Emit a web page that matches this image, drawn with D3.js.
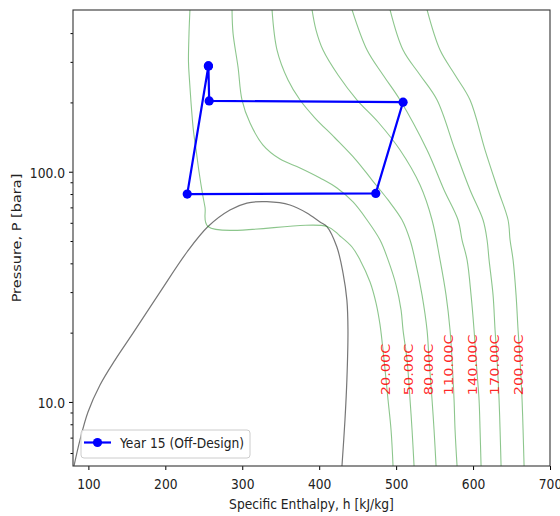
<!DOCTYPE html>
<html>
<head>
<meta charset="utf-8">
<script src="https://cdn.jsdelivr.net/npm/d3@7"></script>
<style>
body { margin: 0; background: #fff; }
text { font-family: "DejaVu Sans", sans-serif; }
</style>
</head>
<body>
<svg id="chart"></svg>
<script>
'use strict';

let WIDTH = 560;
let HEIGHT = 516;
let PLOT = {left: 73, right: 550, top: 10, bottom: 466};
let STRETCH = 1.18; // the picture is a bit taller than it was drawn
let FONT = 12.3;

// axes
let H_DOMAIN = [80, 700];
let P_DOMAIN = [5.27, 504];
let H_TICKS = [100, 200, 300, 400, 500, 600, 700];
let P_TICKS = [10, 100];
let P_MINOR = [6, 7, 8, 9, 20, 30, 40, 50, 60, 70, 80, 90, 200, 300, 400];

// saturation dome
let DOME_H = [81.3, 89.1, 99.5, 115.1, 134.6, 158, 193.1, 228.2, 255.5, 284, 306, 332, 362, 384, 401, 410, 423, 431, 436, 437.4, 436, 433.5, 429.6];
let DOME_P = [5.27, 6.84, 9.05, 11.85, 15.2, 19.9, 30, 44.8, 57.8, 68.2, 73.1, 74.1, 71.7, 66.2, 60.5, 57.8, 47.1, 36.3, 27.7, 20.5, 12.5, 8.35, 5.27];

// cycle
let CYCLE_NAME = 'Year 15 (Off-Design)';
let CYCLE_H = [256, 257, 509, 473.5, 228.5, 256];
let CYCLE_P = [288, 203, 200.5, 80.5, 80, 288];

// isotherms
let ISO_T = [20, 50, 80, 110, 140, 170, 200];
let ISO_H = [
    [232, 230.8, 230.1, 231.4, 233.4, 236.6, 239.9, 243.8, 248.4, 251.6, 255.5, 410.2, 427, 442.7, 453.1, 466.1, 473.9, 479.1, 484.3, 489.5, 493.4, 496],
    [286.7, 288, 294.5, 299.7, 310.1, 327, 349.1, 375.1, 401.1, 423.2, 444, 462.2, 479.1, 489.5, 499.9, 506.4, 509, 514.2, 518.1, 520.7, 523.3],
    [338.7, 345.2, 359.5, 375.1, 394.6, 420.6, 447.9, 468.7, 489.5, 507.7, 518.1, 524.6, 533.7, 540.2, 542.8, 546.7, 549.3, 551.9],
    [390.7, 395.9, 405, 424.5, 449.2, 476.5, 505.1, 531.1, 546.7, 557.1, 564.9, 570.1, 572.7, 575.3, 576.6, 579.2],
    [442.7, 462.2, 483, 505.1, 540.2, 562.3, 580.5, 585.7, 592.2, 597.4, 601.3, 603.9, 607.8, 609.1, 610.4],
    [492.1, 509, 531.1, 553.2, 576.6, 596.1, 613, 618.2, 620.8, 626, 628.6, 631.2, 633.8, 635.1, 636.4],
    [540.2, 557.1, 576.6, 596.1, 615.6, 632.5, 645.5, 648.1, 652, 655.9, 658.5, 661.1, 663.7, 665, 666.3]
];
let ISO_P = [
    [505, 400, 300, 250, 200, 150, 125, 100, 80, 70, 57.8, 57.8, 52.6, 47.1, 41.4, 33.2, 26.9, 21.6, 15.2, 10.2, 7.56, 5.27],
    [505, 400, 284.9, 204.8, 162.7, 130.6, 113.5, 103.8, 93.9, 85, 73.9, 61.7, 50.5, 41.4, 32.2, 25.1, 20.5, 15.2, 10.2, 7.56, 5.27],
    [505, 337.6, 250.2, 204.8, 171.1, 140.1, 112.4, 92, 75.4, 61.7, 50.5, 41.4, 29.1, 20.5, 15.2, 10.2, 7.56, 5.27],
    [505, 412.4, 337.6, 263, 204.8, 164.4, 124.2, 87.5, 61.7, 41.4, 29.1, 20.5, 15.2, 10.2, 7.56, 5.27],
    [505, 337.6, 263, 204.8, 124.2, 83.3, 61.7, 50.5, 41.4, 29.1, 20.5, 15.2, 10.2, 7.56, 5.27],
    [505, 337.6, 263, 204.8, 124.2, 83.3, 61.7, 50.5, 41.4, 29.1, 20.5, 15.2, 10.2, 7.56, 5.27],
    [505, 337.6, 263, 204.8, 124.2, 83.3, 61.7, 50.5, 41.4, 29.1, 20.5, 15.2, 10.2, 7.56, 5.27]
];
let ISO_LABEL_H = [485.6, 515.5, 541.5, 567.5, 598.7, 627.3, 658.5];
let ISO_LABEL_P = 10.7;

let svg = d3.select('#chart').attr('width', WIDTH).attr('height', HEIGHT);

let x = d3.scaleLinear().domain(H_DOMAIN).range([PLOT.left, PLOT.right]);
let y = d3.scaleLog().domain(P_DOMAIN).range([PLOT.bottom, PLOT.top]);

svg.append('clipPath').attr('id', 'clip')
    .append('rect')
    .attr('x', PLOT.left).attr('y', PLOT.top)
    .attr('width', PLOT.right - PLOT.left).attr('height', PLOT.bottom - PLOT.top);

let plot = svg.append('g').attr('clip-path', 'url(#clip)');

let line = d3.line()
    .x(function(d) { return x(d[0]); })
    .y(function(d) { return y(d[1]); })
    .curve(d3.curveCatmullRom.alpha(0.5));

// dome
plot.append('path')
    .datum(d3.zip(DOME_H, DOME_P))
    .attr('d', line)
    .attr('fill', 'none')
    .attr('stroke', '#777')
    .attr('stroke-width', 1.2);

// isotherms
ISO_T.forEach(function(t, i) {
    plot.append('path')
        .datum(d3.zip(ISO_H[i], ISO_P[i]))
        .attr('d', line)
        .attr('fill', 'none')
        .attr('stroke', '#008000')
        .attr('stroke-opacity', 0.45)
        .attr('stroke-width', 1.1);
});

// isotherm labels
svg.selectAll('text.iso')
    .data(ISO_T)
    .enter()
    .append('text')
    .attr('class', 'iso')
    .attr('transform', function(d, i) {
        return 'translate(' + (x(ISO_LABEL_H[i]) + 4.5) + ',' + y(ISO_LABEL_P) + ') scale(1,' + STRETCH + ') rotate(-90)';
    })
    .attr('font-size', FONT)
    .attr('fill', 'red')
    .attr('fill-opacity', 0.85)
    .text(function(d) { return d.toFixed(2) + 'C'; });

// cycle
let cycle = d3.zip(CYCLE_H, CYCLE_P);
svg.append('path')
    .datum(cycle)
    .attr('d', d3.line().x(function(d) { return x(d[0]); }).y(function(d) { return y(d[1]); }))
    .attr('fill', 'none')
    .attr('stroke', '#0000ff')
    .attr('stroke-width', 2.2);
svg.selectAll('circle.pt')
    .data(cycle)
    .enter()
    .append('circle')
    .attr('class', 'pt')
    .attr('cx', function(d) { return x(d[0]); })
    .attr('cy', function(d) { return y(d[1]); })
    .attr('r', 4.6)
    .attr('fill', '#0000ff');

// axes
let xAxis = svg.append('g')
    .attr('transform', 'translate(0,' + PLOT.bottom + ')')
    .call(d3.axisBottom(x).tickValues(H_TICKS).tickSize(4).tickSizeOuter(0));
xAxis.select('.domain').remove();
xAxis.selectAll('text')
    .attr('y', null).attr('dy', null)
    .attr('transform', 'translate(0,23) scale(1,' + STRETCH + ')')
    .attr('font-size', FONT).attr('font-family', 'DejaVu Sans').attr('fill', '#222');

let yAxis = svg.append('g')
    .attr('transform', 'translate(' + PLOT.left + ',0)')
    .call(d3.axisLeft(y).tickValues(P_TICKS).tickFormat(d3.format('.1f')).tickSize(4).tickSizeOuter(0));
yAxis.select('.domain').remove();
yAxis.selectAll('text')
    .attr('x', null).attr('dy', null)
    .attr('transform', 'translate(-8,5.3) scale(1,' + STRETCH + ')')
    .attr('font-size', FONT).attr('font-family', 'DejaVu Sans').attr('fill', '#222');

let yMinor = svg.append('g')
    .attr('transform', 'translate(' + PLOT.left + ',0)')
    .call(d3.axisLeft(y).tickValues(P_MINOR).tickFormat('').tickSize(2.5).tickSizeOuter(0));
yMinor.select('.domain').remove();

// frame
svg.append('rect')
    .attr('x', PLOT.left).attr('y', PLOT.top)
    .attr('width', PLOT.right - PLOT.left).attr('height', PLOT.bottom - PLOT.top)
    .attr('fill', 'none')
    .attr('stroke', '#333')
    .attr('stroke-width', 1.1);

// axis titles
svg.append('text')
    .attr('transform', 'translate(' + ((PLOT.left + PLOT.right) / 2) + ',509) scale(1,' + STRETCH + ')')
    .attr('text-anchor', 'middle')
    .attr('font-size', FONT)
    .attr('fill', '#222')
    .text('Specific Enthalpy, h [kJ/kg]');
svg.append('text')
    .attr('transform', 'translate(21,' + ((PLOT.top + PLOT.bottom) / 2) + ') scale(1,' + STRETCH + ') rotate(-90)')
    .attr('text-anchor', 'middle')
    .attr('font-size', FONT)
    .attr('fill', '#222')
    .text('Pressure, P [bara]');

// legend
let legend = svg.append('g').attr('transform', 'translate(81,430)');
legend.append('rect')
    .attr('width', 169).attr('height', 28).attr('rx', 3)
    .attr('fill', '#fff').attr('fill-opacity', 0.8)
    .attr('stroke', '#ccc');
legend.append('line')
    .attr('x1', 3).attr('x2', 30).attr('y1', 12.5).attr('y2', 12.5)
    .attr('stroke', '#0000ff').attr('stroke-width', 2.2);
legend.append('circle')
    .attr('cx', 16.5).attr('cy', 12.5).attr('r', 4.6).attr('fill', '#0000ff');
legend.append('text')
    .attr('transform', 'translate(39,17.5) scale(1,' + STRETCH + ')')
    .attr('font-size', FONT)
    .attr('fill', '#222')
    .text(CYCLE_NAME);
</script>
</body>
</html>
